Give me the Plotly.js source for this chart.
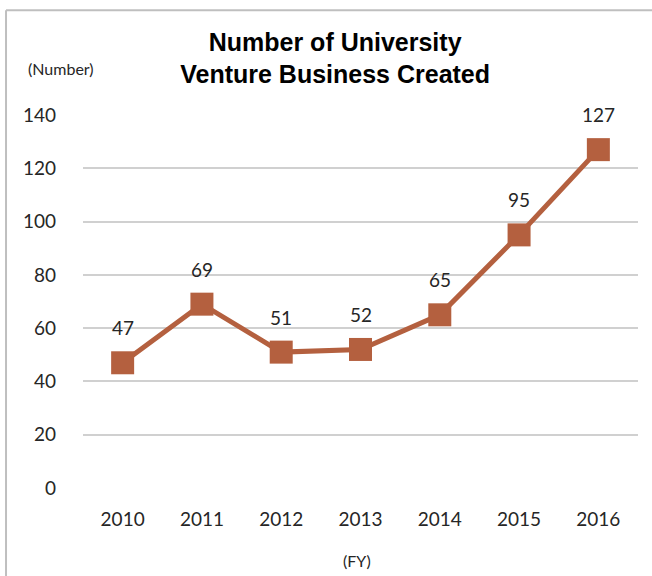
<!DOCTYPE html>
<html><head><meta charset="utf-8">
<script src="https://cdn.plot.ly/plotly-3.0.1.min.js"></script>
<style>body{margin:0;padding:0;background:#fff}#chart{width:652px;height:576px}</style>
</head><body><div id="chart"></div>
<script>
const years = ['2010','2011','2012','2013','2014','2015','2016'];
const ventures = [47, 69, 51, 52, 65, 95, 127];
const yTicks = [0, 20, 40, 60, 80, 100, 120, 140];

const lineColor = '#B4603F';
const numFont = 'Lato, "Open Sans", sans-serif';

const trace = {
  x: years, y: ventures, type: 'scatter', mode: 'lines+markers',
  line: {color: lineColor, width: 5},
  marker: {symbol: 'square', size: 23, color: lineColor},
  cliponaxis: false, hoverinfo: 'skip'
};

const valueLabels = years.map((yr, i) => ({
  x: i, y: ventures[i], xref: 'x', yref: 'y', text: String(ventures[i]),
  showarrow: false, yshift: 35, xanchor: 'center', yanchor: 'middle',
  font: {family: numFont, size: 19, color: '#262626'}
}));

const layout = {
  width: 652, height: 576,
  margin: {l: 83, r: 14, t: 115, b: 88},
  paper_bgcolor: '#fff', plot_bgcolor: '#fff',
  showlegend: false,
  title: {text: '<b>Number of University<br>Venture Business Created</b>',
    font: {family: 'Arial, "Liberation Sans", sans-serif', size: 25, color: '#000'},
    x: 0.514, xanchor: 'center', y: 0.912, yanchor: 'top'},
  xaxis: {type: 'category', range: [-0.5, 6.5], showgrid: false, zeroline: false,
    showline: false, ticks: '', tickfont: {family: numFont, size: 19, color: '#262626'},
    ticklabelstandoff: 18, fixedrange: true},
  yaxis: {range: [0, 140], tickvals: yTicks, showgrid: true, gridcolor: '#D0D0D0', gridwidth: 2,
    zeroline: false, showline: false, ticks: '',
    tickfont: {family: numFont, size: 19, color: '#262626'}, ticklabelstandoff: 26, fixedrange: true},
  annotations: valueLabels.concat([
    {text: '(Number)', xref: 'paper', yref: 'paper', x: -0.04, y: 1.126, xanchor: 'center', yanchor: 'middle',
     showarrow: false, font: {family: numFont, size: 16, color: '#262626'}},
    {text: '(FY)', xref: 'paper', yref: 'paper', x: 0.494, y: -0.195, xanchor: 'center', yanchor: 'middle',
     showarrow: false, font: {family: numFont, size: 16, color: '#262626'}}
  ]),
  shapes: [
    {type: 'line', xref: 'paper', yref: 'paper', x0: -0.1387, x1: 1.2, y0: 1.281, y1: 1.281,
     line: {color: '#BFBFBF', width: 2}, layer: 'above'},
    {type: 'line', xref: 'paper', yref: 'paper', x0: -0.1387, x1: -0.1387, y0: -0.4, y1: 1.281,
     line: {color: '#BFBFBF', width: 2}, layer: 'above'}
  ]
};

Plotly.newPlot('chart', [trace], layout, {displayModeBar: false, staticPlot: true});
</script></body></html>
